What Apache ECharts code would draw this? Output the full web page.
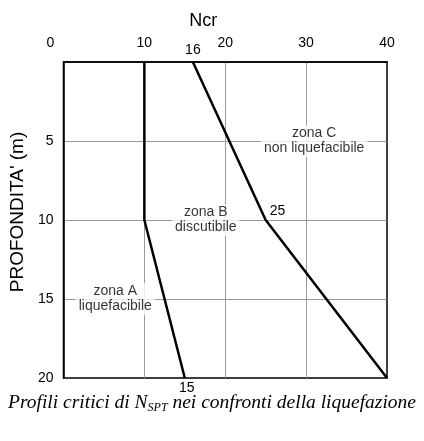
<!DOCTYPE html>
<html><head><meta charset="utf-8">
<script src="https://cdn.jsdelivr.net/npm/echarts@6/dist/echarts.min.js"></script>
<style>html,body{margin:0;padding:0;background:#fff}#c{width:424px;height:441px}</style>
</head><body><div id="c"></div>
<script>
// Profile A (lower curve: zona A / zona B boundary)
const depthA = [0, 10, 20];
const ncrA = [10, 10, 15];
const pointLabelsA = ['', '', '15'];
// Profile B (upper curve: zona B / zona C boundary)
const depthB = [0, 10, 20];
const ncrB = [16, 25, 40];
const pointLabelsB = ['16', '25', ''];
// Zone annotations
const zoneNames = ['zona A\nliquefacibile', 'zona B\ndiscutibile', 'zona C\nnon liquefacibile'];
const zoneNcr = [6.4, 17.6, 31];
const zoneDepth = [15, 10, 5];
// Tick labels
const xTickValues = [0, 10, 20, 30, 40];
const xTickLabels = ['0', '10', '20', '30', '40'];
const yTickValues = [0, 5, 10, 15, 20];
const yTickLabels = ['', '5', '10', '15', '20'];

const SANS = 'Liberation Sans, Arial, sans-serif';
const SERIF = 'Liberation Serif, Times New Roman, serif';

const labelPos = {
  '16': {position: 'top', distance: 5, offset: [0, 0]},
  '25': {position: 'right', distance: 4, offset: [0, -9]},
  '15': {position: 'bottom', distance: 3, offset: [2, 0]}
};

function buildLine(xs, ys, labels) {
  return ys.map((d, i) => {
    const lab = labels[i];
    const item = {value: [xs[i], d]};
    if (lab) {
      item.label = Object.assign({show: true, formatter: lab, fontSize: 14, color: '#000', fontFamily: SANS}, labelPos[lab]);
    }
    return item;
  });
}

const chart = echarts.init(document.getElementById('c'), null, {renderer: 'canvas'});
chart.setOption({
  animation: false,
  backgroundColor: '#fff',
  title: {
    text: '{a|Profili critici di N}{b|SPT}{a| nei confronti della liquefazione}',
    left: 'center',
    top: 387,
    textStyle: {
      fontWeight: 'normal',
      rich: {
        a: {fontFamily: SERIF, fontStyle: 'italic', fontWeight: 'normal', fontSize: 19.5, color: '#000', lineHeight: 22},
        b: {fontFamily: SERIF, fontStyle: 'italic', fontWeight: 'normal', fontSize: 12, color: '#000', lineHeight: 12, padding: [9, 0, 0, 0]}
      }
    }
  },
  grid: {left: 63, right: 37, top: 62, bottom: 63, show: true, borderColor: '#000', borderWidth: 1.5, backgroundColor: 'transparent'},
  xAxis: {
    type: 'value', position: 'top', min: 0, max: 40, interval: 10,
    name: 'Ncr', nameLocation: 'middle', nameGap: 32,
    nameTextStyle: {fontSize: 18, color: '#000', fontFamily: SANS, padding: [0, 44, 0, 0]},
    axisLine: {show: true, onZero: false, lineStyle: {color: '#000', width: 1.5}},
    axisTick: {show: false},
    axisLabel: {
      margin: 12, fontSize: 14, color: '#000', fontFamily: SANS,
      formatter: v => {
        const i = xTickValues.indexOf(v);
        const t = i >= 0 ? xTickLabels[i] : '';
        return v === 0 ? '{z|' + t + '}' : t;
      },
      rich: {z: {fontSize: 14, color: '#000', fontFamily: SANS, padding: [0, 26, 0, 0]}}
    },
    splitLine: {show: true, showMinLine: false, showMaxLine: false, lineStyle: {color: '#999', width: 1}}
  },
  yAxis: {
    type: 'value', inverse: true, min: 0, max: 20, interval: 5,
    name: "PROFONDITA' (m)", nameLocation: 'middle', nameGap: 35, nameRotate: 90,
    nameTextStyle: {fontSize: 19, color: '#000', fontFamily: SANS, padding: [0, 0, 0, 16]},
    axisLine: {show: true, onZero: false, lineStyle: {color: '#000', width: 1.5}},
    axisTick: {show: false},
    axisLabel: {
      margin: 10, fontSize: 14, color: '#000', fontFamily: SANS,
      formatter: v => { const i = yTickValues.indexOf(v); return i >= 0 ? yTickLabels[i] : ''; }
    },
    splitLine: {show: true, showMinLine: false, showMaxLine: false, lineStyle: {color: '#999', width: 1}}
  },
  series: [
    {
      type: 'scatter', symbol: 'circle', symbolSize: 0, z: 3,
      data: zoneNames.map((n, i) => ({value: [zoneNcr[i], zoneDepth[i]], name: n})),
      label: {show: true, position: 'inside', formatter: p => p.name, fontSize: 14, lineHeight: 15,
        color: '#000', fontFamily: SANS, backgroundColor: '#fff', padding: [1, 3], align: 'center'}
    },
    {
      type: 'line', symbol: 'circle', symbolSize: 0, showSymbol: true, z: 4,
      lineStyle: {color: '#000', width: 2.5}, itemStyle: {color: '#000'},
      data: buildLine(ncrA, depthA, pointLabelsA)
    },
    {
      type: 'line', symbol: 'circle', symbolSize: 0, showSymbol: true, z: 4,
      lineStyle: {color: '#000', width: 2.5}, itemStyle: {color: '#000'},
      data: buildLine(ncrB, depthB, pointLabelsB)
    }
  ]
});
</script>
</body></html>
